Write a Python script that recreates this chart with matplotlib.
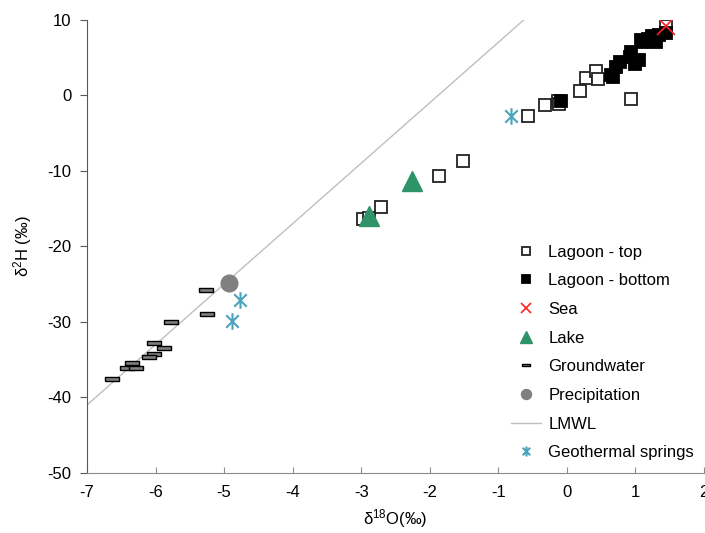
import numpy as np
import matplotlib
matplotlib.use("Agg")
import matplotlib.pyplot as plt
from matplotlib.path import Path

plt.rcParams['font.family'] = ['Liberation Sans', 'DejaVu Sans']
plt.rcParams['mathtext.fontset'] = 'custom'
plt.rcParams['mathtext.rm'] = 'Liberation Sans'
plt.rcParams['mathtext.it'] = 'Liberation Sans:italic'
plt.rcParams['axes.unicode_minus'] = False
plt.rcParams['font.size'] = 12

# isotope data, d18O / d2H (permil)
lagoon_top_x = [-0.56, -0.32, -0.13, -0.11, 0.19, 0.28, 0.43, 0.46, 0.94, 1.45,
                -1.51, -1.86, -2.71, -2.97, -2.88]
lagoon_top_y = [-2.75, -1.3, -0.7, -1.1, 0.6, 2.3, 3.2, 2.15, -0.54, 9.2,
                -8.75, -10.7, -14.84, -16.35, -16.2]

lagoon_bot_x = [-0.09, 0.65, 0.68, 0.72, 0.78, 0.92, 0.94, 0.99, 1.06, 1.08,
                1.11, 1.18, 1.25, 1.30, 1.35, 1.45]
lagoon_bot_y = [-0.8, 2.7, 2.45, 3.8, 4.45, 5.1, 5.76, 4.2, 4.66, 7.3,
                7.1, 7.5, 7.85, 7.1, 8.0, 8.3]

sea_x = [1.45]
sea_y = [9.2]

lake_x = [-2.26, -2.89]
lake_y = [-11.4, -16.0]

gw_x = [-5.78, -6.02, -5.87, -6.02, -6.10, -6.34, -6.42, -6.29, -6.63, -5.27, -5.25]
gw_y = [-30.0, -32.85, -33.5, -34.3, -34.7, -35.5, -36.1, -36.1, -37.6, -25.8, -28.9]

precip_x = [-4.93]
precip_y = [-24.8]

geo_x = [-4.77, -4.88, -0.82]
geo_y = [-27.1, -29.9, -2.71]

# local meteoric water line: d2H = 8 * d18O + 15
lmwl_x = np.array([-7.0, -0.625])
lmwl_y = 8 * lmwl_x + 15

fig = plt.figure(figsize=(7.05, 5.33), dpi=100)
ax = fig.add_axes([0.1234, 0.1126, 0.875, 0.8504])

# thin bar marker for groundwater, asterisk for springs
bar = [(-1, -0.27), (1, -0.27), (1, 0.27), (-1, 0.27), (-1, -0.27)]
ast = Path([(0, -1), (0, 1), (-0.75, -0.75), (0.75, 0.75), (-0.75, 0.75), (0.75, -0.75)],
           [Path.MOVETO, Path.LINETO, Path.MOVETO, Path.LINETO, Path.MOVETO, Path.LINETO])

ax.plot(lagoon_top_x, lagoon_top_y, ls='none', marker='s', ms=8.5, mfc='white',
        mec='#222222', mew=1.3, label='Lagoon - top', zorder=3)
ax.plot(lagoon_bot_x, lagoon_bot_y, ls='none', marker='s', ms=8.5, mfc='black',
        mec='black', mew=1.3, label='Lagoon - bottom', zorder=4)
ax.plot(sea_x, sea_y, ls='none', marker='x', ms=13, mec='#ff2020', mew=1.2,
        label='Sea', zorder=6)
ax.plot(lake_x, lake_y, ls='none', marker='^', ms=14, mfc='#2e9467', mec='#2e9467',
        label='Lake', zorder=5)
ax.plot(gw_x, gw_y, ls='none', marker=bar, ms=9.5, mfc='#7f7f7f', mec='black',
        mew=1.0, label='Groundwater', zorder=3)
ax.plot(precip_x, precip_y, ls='none', marker='o', ms=12, mfc='#808080', mec='#808080',
        label='Precipitation', zorder=3)
ax.plot(lmwl_x, lmwl_y, color='#bfbfbf', lw=1.0, label='LMWL', zorder=2)
ax.plot(geo_x, geo_y, ls='none', marker=ast, ms=12, mec='#4aa3bd', mew=1.5,
        label='Geothermal springs', zorder=3)

ax.set_xlim(-7, 2)
ax.set_ylim(-50, 10)
ax.set_xticks(np.arange(-7, 3, 1))
ax.set_yticks(np.arange(-50, 11, 10))

for s in ['top', 'right']:
    ax.spines[s].set_visible(False)
ax.spines['left'].set_color('#595959')
ax.spines['bottom'].set_color('#8c8c8c')
ax.tick_params(axis='x', direction='in', length=4, color='#8c8c8c', pad=9)
ax.tick_params(axis='y', direction='out', length=5, color='#595959', pad=6)

ax.set_xlabel(r'δ$^{18}$O(‰)', labelpad=5)
ax.set_ylabel(r'δ$^{2}$H (‰)', labelpad=10)

leg = ax.legend(loc='lower left', bbox_to_anchor=(0.663, -0.005), frameon=False,
                handlelength=1.8, handletextpad=0.45, labelspacing=0.82,
                markerscale=0.6)

fig.savefig('out.png', dpi=100)
